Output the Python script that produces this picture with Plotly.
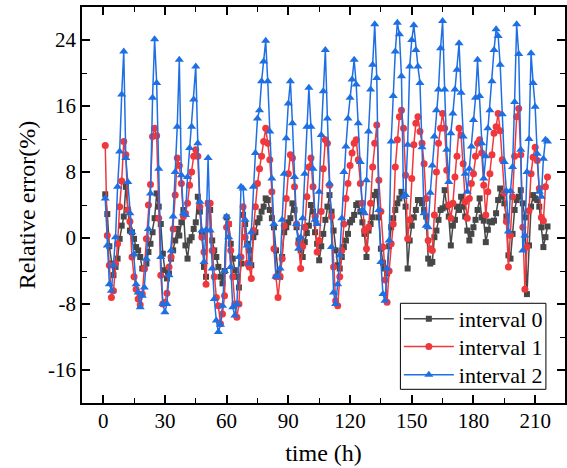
import plotly.graph_objects as go

time_h = list(range(1, 217))

interval_0 = [
    5.3, 2.9, -1.0, -3.1, -4.5, -3.5, -2.5, -0.1, 1.5, 2.6,
    6.2, 3.4, 0.9, 0.7, -0.1, -1.1, -1.5, -2.3, -3.7, -3.7,
    -3.1, -1.7, -0.7, 0.7, 2.4, 5.4, 3.8, 1.7, -1.9, -3.9,
    -4.9, -4.3, -2.5, -1.5, -0.3, 1.1, 0.3, 1.9, 3.4, -0.9,
    -2.5, -0.3, 0.1, 1.1, 1.9, 5.0, 3.2, 0.5, -3.5, -4.7,
    4.2, 3.4, -0.3, -1.5, -2.3, -3.5, -4.7, -5.5, -4.0, 2.5,
    1.7, -0.7, -2.5, -3.9, -4.7, -6.0, -3.1, 2.8, 1.7, -0.7,
    -1.5, -3.3, 0.1, 0.7, 1.9, 2.4, 3.2, 3.8, 4.8, 4.6,
    3.4, 2.4, 1.3, -1.5, -4.3, -4.7, -2.3, 0.7, 1.3, 1.9,
    2.4, 4.2, 3.4, 1.3, -0.3, -1.5, -2.3, -0.5, 0.6, 1.5,
    4.0, 3.2, 0.7, -0.7, -2.7, -1.0, 0.5, 2.2, 3.8, 5.2,
    3.2, 0.9, -1.5, -3.3, -3.7, -2.3, -1.1, -0.3, 0.5, 1.9,
    2.2, 2.8, 4.0, 4.2, 3.2, 1.9, 0.5, -2.3, 0.9, 1.7,
    2.5, 5.2, 5.6, 2.5, -1.3, -3.0, -3.7, -4.3, -1.0, 1.3,
    2.4, 3.4, 4.2, 4.8, 5.6, 5.2, 3.8, -3.7, -0.3, 1.5,
    2.5, 3.4, 4.6, 4.6, 4.2, 3.4, 2.6, -2.5, -3.1, -2.9,
    0.1, 0.9, 2.2, 3.4, 3.6, 5.8, 3.8, 2.6, -0.9, 1.5,
    2.2, 3.8, 3.4, 5.0, 3.8, 2.6, 0.9, -0.3, 0.5, 1.3,
    2.2, 3.4, 4.8, 2.5, 2.1, -0.5, 1.0, 2.0, 1.9, 2.1,
    3.0, 4.6, 6.0, 5.0, 4.2, 2.6, -2.1, -2.5, 0.5, 3.4,
    4.6, 5.0, 5.8, 4.2, 2.5, -6.8, -0.9, 3.8, 5.2, 4.8,
    4.6, 3.8, 1.3, -1.1, 0.1, 1.4,
]

interval_1 = [
    11.2, 0.3, -3.3, -7.2, -6.4, -3.1, -0.7, 3.8, 6.9, 11.7,
    10.1, 3.4, 2.0, -2.3, -4.7, -6.2, -7.4, -8.1, -6.8, -3.7,
    -0.1, 4.0, 6.5, 12.3, 13.3, 12.4, 2.4, -4.5, -8.0, -7.8,
    -6.7, -3.5, -2.3, 1.1, 5.2, 9.7, 8.8, 6.6, 2.6, 3.0,
    4.2, 6.4, 8.0, 9.9, 10.7, 9.9, 3.8, 0.1, -1.7, -5.6,
    4.2, 4.2, -1.5, -4.7, -7.2, -8.2, -10.4, -9.2, -7.0, 1.3,
    1.7, -1.5, -4.7, -8.0, -9.6, -8.0, -2.3, 3.8, 0.1, -3.1,
    -3.5, -4.9, 0.9, 3.8, 6.6, 8.4, 9.9, 11.7, 13.3, 11.5,
    9.5, 5.6, -1.3, -4.7, -7.2, -4.7, -2.5, 1.5, 4.8, 7.8,
    10.1, 9.7, 6.2, 1.7, -0.7, -3.7, -1.0, 1.3, 5.0, 8.6,
    9.7, 6.2, 2.6, -1.7, -0.3, 3.2, 8.4, 11.9, 11.5, 6.4,
    2.6, -3.5, -7.6, -8.2, -4.7, -1.5, 1.7, 4.8, 6.6, 8.8,
    10.3, 11.5, 11.9, 9.5, 6.6, 4.2, 0.9, -1.3, 1.3, 4.2,
    8.6, 11.5, 13.7, 7.0, 3.2, -1.1, -5.1, -7.8, -4.0, -0.7,
    1.7, 8.6, 11.9, 14.7, 15.5, 13.3, 7.6, -0.1, 2.2, 7.2,
    11.3, 13.9, 14.7, 12.9, 11.5, 9.0, 4.8, -0.3, -1.3, -1.5,
    2.8, 8.0, 11.5, 13.3, 15.1, 13.3, 8.2, 4.0, 2.4, 4.2,
    7.4, 9.9, 13.3, 12.5, 9.0, 4.4, 2.4, 4.8, 6.6, 7.8,
    9.9, 11.5, 11.9, 10.3, 6.4, 2.8, 5.6, 7.8, 10.1, 12.7,
    13.5, 15.1, 13.0, 9.5, 5.5, 2.0, -3.5, 0.3, 5.0, 9.9,
    14.7, 15.7, 10.1, 1.3, -6.2, -1.1, 3.3, 7.8, 9.8, 11.0,
    9.4, 6.0, 2.5, 2.1, 6.2, 7.4,
]

interval_2 = [
    4.8, -0.9, -5.6, -6.4, -3.3, 0.1, 6.2, 10.5, 17.4, 22.6,
    9.7, 6.8, 3.0, 0.7, -2.0, -5.6, -6.6, -8.4, -7.0, -6.0,
    -2.5, 1.1, 5.4, 17.0, 24.1, 18.8, 8.4, -2.3, -8.0, -9.0,
    -8.0, -4.5, -1.5, 2.6, 8.0, 13.5, 21.6, 7.6, 3.0, 2.8,
    7.4, 10.9, 13.5, 16.8, 20.8, 11.5, 4.4, 0.9, -2.9, 1.0,
    9.7, 0.9, -3.7, -7.4, -10.0, -11.4, -10.5, -8.2, -4.0, 2.6,
    0.1, -3.5, -8.4, -9.4, -8.0, -2.3, 6.2, 6.0, 2.2, -0.9,
    -3.1, 0.7, 6.2, 10.3, 14.5, 15.5, 19.0, 21.4, 23.9, 19.0,
    12.9, 7.2, 1.7, -4.7, -4.7, -3.7, 2.2, 7.8, 12.1, 16.3,
    19.0, 13.9, 7.4, 1.7, -1.3, 0.1, 2.4, 7.8, 13.5, 18.2,
    13.5, 8.4, 2.2, 1.7, 5.6, 12.5, 17.8, 22.8, 14.5, 6.6,
    -1.1, -6.6, -8.0, -5.6, -2.1, 2.4, 8.0, 11.1, 14.5, 17.0,
    19.2, 21.6, 18.6, 13.9, 9.2, 3.4, 3.0, 7.0, 12.9, 18.0,
    21.0, 25.9, 19.4, 3.4, -2.9, -6.8, -7.6, -3.7, -0.3, 11.7,
    17.2, 22.6, 26.1, 24.7, 19.6, 5.0, 5.2, 11.3, 20.8, 24.0,
    25.8, 22.8, 20.8, 18.8, 11.0, 3.0, 1.5, 1.3, 5.5, 8.8,
    12.3, 15.5, 18.0, 23.0, 26.3, 18.0, 10.7, 6.8, 12.7, 15.1,
    18.0, 20.4, 23.6, 17.6, 12.3, 7.8, 5.6, 8.4, 11.1, 14.3,
    17.0, 21.6, 17.2, 11.5, 7.2, 9.9, 13.3, 15.5, 19.0, 22.8,
    25.3, 24.5, 21.0, 15.0, 9.2, 5.7, 0.8, 5.7, 8.6, 16.5,
    25.9, 22.3, 10.7, -1.5, 0.3, 8.0, 12.0, 22.4, 18.8, 15.9,
    10.2, 5.6, 5.0, 9.6, 11.9, 11.7,
]

series_names = ["interval 0", "interval 1", "interval 2"]
x_tick_vals = [0, 30, 60, 90, 120, 150, 180, 210]
y_tick_vals = [-16, -8, 0, 8, 16, 24]
y_tick_text = ["-16", "-8", "0", "8", "16", "24"]

colors = ["#474747", "#f0383c", "#1e6fe3"]
symbols = ["square", "circle", "triangle-up"]
sizes = [6, 7, 8]
legend_ids = ["legend", "legend2", "legend3"]
legend_rows = [0.212, 0.142, 0.071]

FONT = "Liberation Serif, Times New Roman, serif"

fig = go.Figure()
for name, vals, c, s, sz, lg in zip(series_names, [interval_0, interval_1, interval_2],
                                    colors, symbols, sizes, legend_ids):
    fig.add_trace(go.Scatter(
        x=time_h, y=vals, name=name, mode="lines+markers", legend=lg,
        line=dict(color=c, width=1.5),
        marker=dict(symbol=s, size=sz, color=c, line=dict(width=0)),
    ))

axis_common = dict(
    showline=True, linecolor="black", linewidth=1.6, mirror="allticks",
    ticks="inside", ticklen=8, tickwidth=1.5, tickcolor="black",
    showgrid=False, zeroline=False,
    tickfont=dict(family=FONT, size=21, color="black"),
)

fig.update_xaxes(
    range=[-10.3, 224.5], tickmode="array", tickvals=x_tick_vals,
    minor=dict(dtick=15, tick0=0, ticks="inside", ticklen=5, tickwidth=1.2, tickcolor="black", showgrid=False),
    title=dict(text="time (h)", font=dict(family=FONT, size=24, color="black"), standoff=12),
    ticklabelstandoff=-2,
    **axis_common,
)
fig.update_yaxes(
    range=[-20, 28], tickmode="array", tickvals=y_tick_vals, ticktext=y_tick_text,
    minor=dict(dtick=4, tick0=0, ticks="inside", ticklen=5, tickwidth=1.2, tickcolor="black", showgrid=False),
    title=dict(text="Relative error(%)", font=dict(family=FONT, size=24, color="black"), standoff=6),
    **axis_common,
)

# white legend frame
fig.add_shape(type="rect", xref="paper", yref="paper",
              x0=0.6592, x1=0.9605, y0=0.0346, y1=0.2518,
              line=dict(color="black", width=1), fillcolor="white", layer="above")

legend_common = dict(
    xanchor="left", yanchor="middle", bgcolor="rgba(0,0,0,0)", borderwidth=0,
    font=dict(family=FONT, size=22, color="black"), itemwidth=50,
)
layout_legends = {}
for lg, yrow in zip(legend_ids, legend_rows):
    layout_legends[lg] = dict(x=0.656, y=yrow, **legend_common)

fig.update_layout(
    width=567, height=468,
    margin=dict(l=82, r=0, t=7, b=65),
    paper_bgcolor="white", plot_bgcolor="white",
    showlegend=True,
    **layout_legends,
)

fig.write_html("out.html")
